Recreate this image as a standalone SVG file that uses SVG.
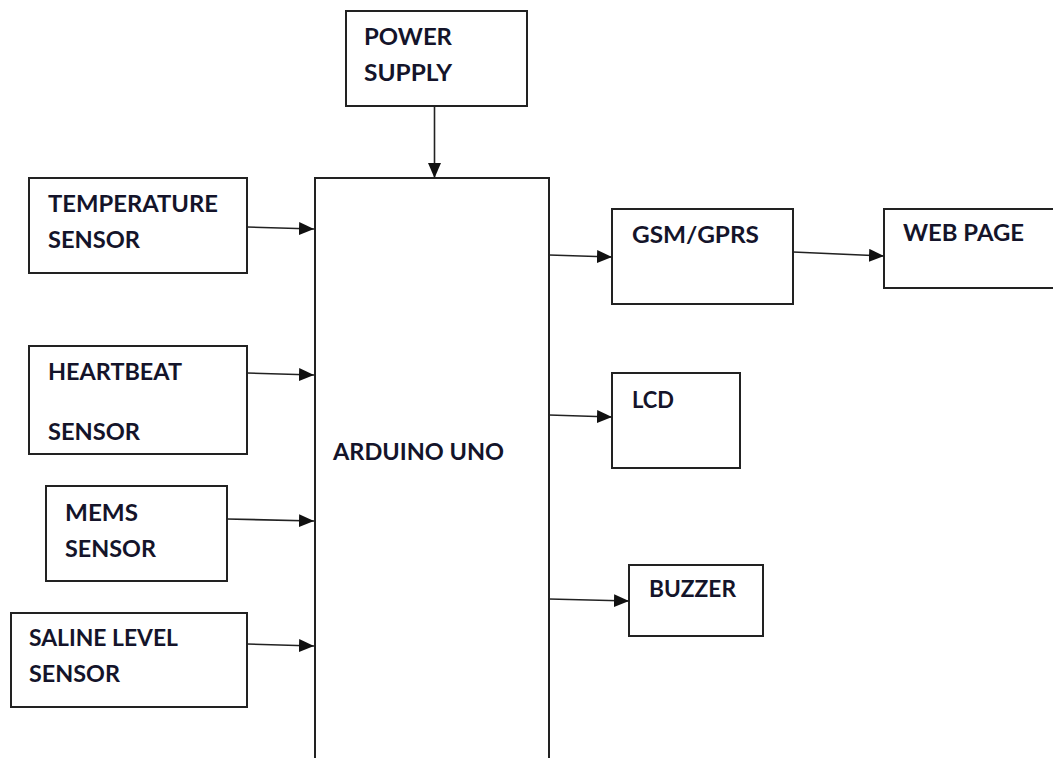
<svg xmlns="http://www.w3.org/2000/svg" width="1053" height="758" viewBox="0 0 1053 758">
<style>
.box{fill:#fff;stroke:#222;stroke-width:2}
.lbl{font-family:Lato,"Open Sans","Liberation Sans",sans-serif;font-weight:bold;font-size:23px;fill:#14142a}
.con{stroke:#222;stroke-width:1.6;fill:none;marker-end:url(#ah)}
</style>
<defs>
<marker id="ah" markerUnits="userSpaceOnUse" markerWidth="16" markerHeight="14" refX="15" refY="6.5" orient="auto">
<path d="M0,0 L15,6.5 L0,13 z" fill="#111"/>
</marker>
</defs>
<rect width="1053" height="758" fill="#fff"/>
<g id="power-supply">
<rect class="box" x="346" y="11" width="181" height="95"/>
<text class="lbl" x="364" y="45" textLength="88" lengthAdjust="spacingAndGlyphs">POWER</text>
<text class="lbl" x="364" y="81" textLength="88" lengthAdjust="spacingAndGlyphs">SUPPLY</text>
</g>
<g id="arduino-uno">
<rect class="box" x="315" y="178" width="234" height="600"/>
<text class="lbl" x="333" y="460" textLength="171" lengthAdjust="spacingAndGlyphs">ARDUINO UNO</text>
</g>
<g id="temperature-sensor">
<rect class="box" x="29" y="178" width="218" height="95"/>
<text class="lbl" x="48" y="212" textLength="170" lengthAdjust="spacingAndGlyphs">TEMPERATURE</text>
<text class="lbl" x="48" y="248" textLength="92" lengthAdjust="spacingAndGlyphs">SENSOR</text>
</g>
<g id="heartbeat-sensor">
<rect class="box" x="29" y="346" width="218" height="108"/>
<text class="lbl" x="48" y="380" textLength="134" lengthAdjust="spacingAndGlyphs">HEARTBEAT</text>
<text class="lbl" x="48" y="440" textLength="92" lengthAdjust="spacingAndGlyphs">SENSOR</text>
</g>
<g id="mems-sensor">
<rect class="box" x="46" y="486" width="181" height="95"/>
<text class="lbl" x="65" y="521" textLength="73" lengthAdjust="spacingAndGlyphs">MEMS</text>
<text class="lbl" x="65" y="557" textLength="91" lengthAdjust="spacingAndGlyphs">SENSOR</text>
</g>
<g id="saline-level-sensor">
<rect class="box" x="11" y="613" width="236" height="94"/>
<text class="lbl" x="29" y="646" textLength="149" lengthAdjust="spacingAndGlyphs">SALINE LEVEL</text>
<text class="lbl" x="29" y="682" textLength="91" lengthAdjust="spacingAndGlyphs">SENSOR</text>
</g>
<g id="gsm-gprs">
<rect class="box" x="612" y="209" width="181" height="95"/>
<text class="lbl" x="632" y="243" textLength="127" lengthAdjust="spacingAndGlyphs">GSM/GPRS</text>
</g>
<g id="web-page">
<rect class="box" x="884" y="209" width="175" height="79"/>
<text class="lbl" x="903" y="241" textLength="121" lengthAdjust="spacingAndGlyphs">WEB PAGE</text>
</g>
<g id="lcd">
<rect class="box" x="612" y="373" width="128" height="95"/>
<text class="lbl" x="632" y="408" textLength="42" lengthAdjust="spacingAndGlyphs">LCD</text>
</g>
<g id="buzzer">
<rect class="box" x="629" y="565" width="134" height="71"/>
<text class="lbl" x="649" y="597" textLength="87" lengthAdjust="spacingAndGlyphs">BUZZER</text>
</g>
<g id="connectors">
<path class="con" d="M434.5,106 L434.5,178"/>
<path class="con" d="M247,227 L314,229"/>
<path class="con" d="M247,373 L314,375"/>
<path class="con" d="M227,519 L314,521"/>
<path class="con" d="M247,644 L314,646"/>
<path class="con" d="M549,255 L612,257"/>
<path class="con" d="M793,252 L884,256"/>
<path class="con" d="M549,415 L612,417"/>
<path class="con" d="M549,599 L629,601"/>
</g>
</svg>
